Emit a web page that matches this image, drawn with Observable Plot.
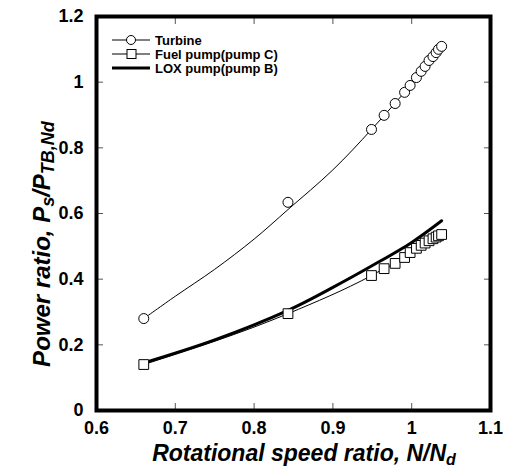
<!DOCTYPE html>
<html>
<head>
<meta charset="utf-8">
<script src="https://cdn.jsdelivr.net/npm/d3@7"></script>
<script src="https://cdn.jsdelivr.net/npm/@observablehq/plot@0.6"></script>
<style>
  html, body { margin: 0; padding: 0; background: #fff; }
  #chart svg { display: block; }
</style>
</head>
<body>
<div id="chart"></div>
<script>
// ---- data ----
const speedRatio   = [0.66, 0.843, 0.949, 0.965, 0.979, 0.991, 0.998, 1.006, 1.012, 1.017, 1.022, 1.027, 1.031, 1.034, 1.038];
const turbinePower = [0.28, 0.634, 0.856, 0.899, 0.935, 0.969, 0.99, 1.014, 1.033, 1.048, 1.066, 1.078, 1.09, 1.1, 1.109];
const fuelPower    = [0.14, 0.295, 0.411, 0.432, 0.448, 0.466, 0.481, 0.494, 0.503, 0.51, 0.517, 0.523, 0.528, 0.532, 0.536];

const turbineFitX  = [0.66, 0.7, 0.75, 0.8, 0.843, 0.9, 0.949, 1.0, 1.038];
const turbineFitY  = [0.28, 0.348, 0.43, 0.522, 0.612, 0.733, 0.856, 0.995, 1.11];

const loxX         = [0.66, 0.75, 0.843, 0.9, 0.949, 1.0, 1.038];
const loxPower     = [0.145, 0.215, 0.305, 0.375, 0.44, 0.512, 0.578];

const xTicks = [0.6, 0.7, 0.8, 0.9, 1.0, 1.1];
const xTickLabels = ["0.6", "0.7", "0.8", "0.9", "1", "1.1"];
const yTicks = [0, 0.2, 0.4, 0.6, 0.8, 1.0, 1.2];
const yTickLabels = ["0", "0.2", "0.4", "0.6", "0.8", "1", "1.2"];

const seriesNames = ["Turbine", "Fuel pump(pump C)", "LOX pump(pump B)"];

// ---- tables ----
const turbinePts = speedRatio.map((x, i) => ({x, y: turbinePower[i]}));
const fuelPts = speedRatio.map((x, i) => ({x, y: fuelPower[i]}));
const turbineFit = turbineFitX.map((x, i) => ({x, y: turbineFitY[i]}));
const lox = loxX.map((x, i) => ({x, y: loxPower[i]}));

const FONT = "'Liberation Sans', Arial, Helvetica, sans-serif";

const chart = Plot.plot({
  width: 511,
  height: 471,
  marginLeft: 96,
  marginRight: 21,
  marginTop: 16,
  marginBottom: 61,
  style: {fontFamily: FONT, background: "#fff", color: "#000"},
  x: {domain: [0.6, 1.1]},
  y: {domain: [0, 1.2]},
  marks: [
    // inward ticks on all four sides
    Plot.axisX({anchor: "bottom", ticks: xTicks, tickSize: -7, tickFormat: () => "", label: null, stroke: "#555"}),
    Plot.axisX({anchor: "top", ticks: xTicks, tickSize: -7, tickFormat: () => "", label: null, stroke: "#555"}),
    Plot.axisY({anchor: "left", ticks: yTicks, tickSize: -7, tickFormat: () => "", label: null, stroke: "#555"}),
    Plot.axisY({anchor: "right", ticks: yTicks, tickSize: -7, tickFormat: () => "", label: null, stroke: "#555"}),
    // tick labels
    Plot.axisX({anchor: "bottom", ticks: xTicks, tickSize: 0, tickPadding: 11, label: null,
      tickFormat: (d, i) => xTickLabels[i], fontSize: 18, fontWeight: "bold"}),
    Plot.axisY({anchor: "left", ticks: yTicks, tickSize: 0, tickPadding: 13, label: null,
      tickFormat: (d, i) => yTickLabels[i], fontSize: 18, fontWeight: "bold"}),
    // curves
    Plot.line(turbineFit, {x: "x", y: "y", curve: "catmull-rom", stroke: "#000", strokeWidth: 1}),
    Plot.line(fuelPts, {x: "x", y: "y", curve: "monotone-x", stroke: "#000", strokeWidth: 1}),
    Plot.line(lox, {x: "x", y: "y", curve: "catmull-rom", stroke: "#000", strokeWidth: 3}),
    // markers
    Plot.dot(turbinePts, {x: "x", y: "y", r: 5, symbol: "circle", stroke: "#000", fill: "#fff", strokeWidth: 1}),
    Plot.dot(fuelPts, {x: "x", y: "y", r: 5.5, symbol: "square", stroke: "#000", fill: "#fff", strokeWidth: 1}),
    Plot.frame({stroke: "#000", strokeWidth: 4})
  ]
});

document.getElementById("chart").appendChild(chart);

// ---- axis titles with subscripts and legend ----
const svg = d3.select(chart);

const xt = svg.append("text")
  .attr("x", 304).attr("y", 461)
  .attr("text-anchor", "middle")
  .attr("font-family", FONT).attr("font-weight", "bold").attr("font-style", "italic")
  .attr("font-size", 23).attr("fill", "#000");
xt.append("tspan").text("Rotational speed ratio, N/N");
xt.append("tspan").attr("font-size", 16).attr("dy", 4).text("d");

const yt = svg.append("text")
  .attr("transform", "translate(50,244) rotate(-90)")
  .attr("text-anchor", "middle")
  .attr("font-family", FONT).attr("font-weight", "bold").attr("font-style", "italic")
  .attr("font-size", 24).attr("fill", "#000");
yt.append("tspan").text("Power ratio, P");
yt.append("tspan").attr("font-size", 18).attr("dy", 4).text("s");
yt.append("tspan").attr("dy", -4).text("/P");
yt.append("tspan").attr("font-size", 18).attr("dy", 4).text("TB,Nd");

const lg = svg.append("g")
  .attr("font-family", FONT).attr("font-weight", "bold").attr("font-size", 13)
  .attr("text-anchor", "start");
const rows = [40, 54, 68];
// Turbine
lg.append("line").attr("x1", 112).attr("x2", 150).attr("y1", rows[0]).attr("y2", rows[0]).attr("stroke", "#000");
lg.append("circle").attr("cx", 131).attr("cy", rows[0]).attr("r", 4.5).attr("fill", "#fff").attr("stroke", "#000");
// Fuel
lg.append("line").attr("x1", 112).attr("x2", 150).attr("y1", rows[1]).attr("y2", rows[1]).attr("stroke", "#000");
lg.append("rect").attr("x", 127).attr("y", rows[1] - 4.5).attr("width", 9).attr("height", 9).attr("fill", "#fff").attr("stroke", "#000");
// LOX
lg.append("line").attr("x1", 112).attr("x2", 150).attr("y1", rows[2]).attr("y2", rows[2]).attr("stroke", "#000").attr("stroke-width", 3);
seriesNames.forEach((s, i) => {
  lg.append("text").attr("x", 155).attr("y", rows[i]).attr("dy", "0.35em").attr("fill", "#000").text(s);
});
</script>
</body>
</html>
